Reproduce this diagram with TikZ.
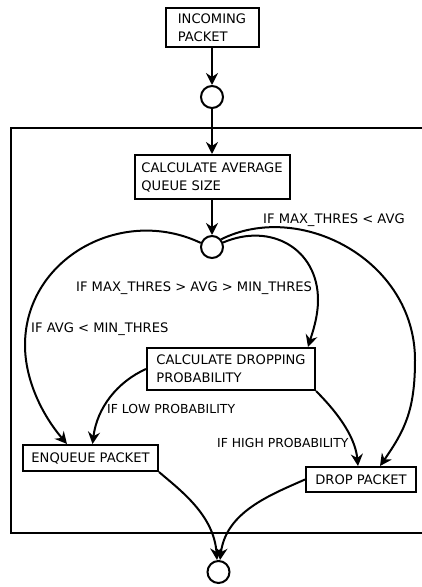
\documentclass[tikz,border=0pt]{standalone}
\usepackage{fontspec}
\setmainfont{DejaVu Sans}
\usetikzlibrary{arrows.meta}
\begin{document}
\begin{tikzpicture}[x=1pt,y=-1pt,
  box/.style={draw, line width=2pt, font=\fontsize{13.1}{18}\selectfont, align=left, inner sep=0pt},
  st/.style={circle, draw, line width=2pt, minimum size=22pt, inner sep=0pt},
  conn/.style={line width=2pt, -{Stealth[length=12pt,width=12pt,inset=4pt]}},
  lab/.style={font=\fontsize{13.1}{15}\selectfont, inner sep=0pt, anchor=base west},
  slab/.style={font=\fontsize{12.4}{15}\selectfont, inner sep=0pt, anchor=base west},
  frame/.style={line width=2pt}]
\useasboundingbox (0,0) rectangle (422,587);

% frame
\draw[frame] (423,128) -- (11,128) -- (11,533) -- (423,533);

% boxes
\node[box, minimum width=93pt, minimum height=39pt] (inc) at (212,27.5) {INCOMING\\PACKET};
\node[box, minimum width=155pt, minimum height=44pt] (avg) at (212,177) {CALCULATE AVERAGE\\QUEUE SIZE};
\node[box, minimum width=168pt, minimum height=42pt] (prob) at (231,369) {CALCULATE DROPPING\\PROBABILITY};
\node[box, minimum width=135pt, minimum height=26pt] (enq) at (90.5,458) {ENQUEUE PACKET};
\node[box, minimum width=110pt, minimum height=25pt] (drop) at (361,479.5) {DROP PACKET};

% states
\node[st] (c1) at (212,97) {};
\node[st] (c2) at (212,247) {};
\node[st] (c3) at (218.5,572) {};

% via points
\coordinate (la) at (25,345);
\coordinate (rb) at (318,300);
\coordinate (rc) at (415,360);

% straight connectors
\draw[conn] (inc.south) -- (c1.north);
\draw[conn] (c1.south) -- (avg.north);
\draw[conn] (avg.south) -- (c2.north);

% curved connectors
\draw[conn] (c2.160) .. controls (121,205) and (25,259) .. (la)
  .. controls (25,381) and (43,416) .. ([xshift=45pt]enq.north west);
\draw[conn] (c2.22) .. controls (271,222) and (318,249) .. (rb)
  .. controls (318,317.5) and (312,334) .. ([xshift=-8pt]prob.north east);
\draw[conn] (c2.40) .. controls (300,200) and (415,260) .. (rc)
  .. controls (415,410) and (405,430) .. ([xshift=19pt]drop.north);
\draw[conn] (prob.west) .. controls (117,382) and (97,408) .. ([xshift=2pt]enq.north);
\draw[conn] (prob.south east) .. controls (333,408) and (355,434) .. ([xshift=-3pt]drop.north);
\draw[conn] (enq.south east) .. controls (180,490) and (214,515) .. ([xshift=-1.5pt]c3.north);
\draw[conn] (drop.west) .. controls (270,495) and (226,512) .. ([xshift=1.5pt]c3.north);

% labels
\node[lab] (l1) at (263,223.7) {IF MAX\_THRES < AVG};
\node[lab] (l2) at (76,291.7) {IF MAX\_THRES > AVG > MIN\_THRES};
\node[lab] (l3) at (31,332.7) {IF AVG < MIN\_THRES};
\node[slab] (l4) at (107,413.5) {IF LOW PROBABILITY};
\node[slab] (l5) at (217,447.5) {IF HIGH PROBABILITY};
\end{tikzpicture}
\end{document}
